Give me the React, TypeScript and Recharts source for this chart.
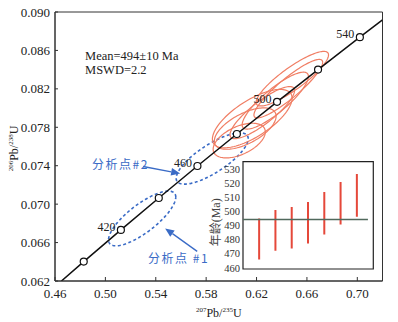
import React from 'react';
import { ComposedChart, Line, Scatter, XAxis, YAxis, ReferenceArea, ReferenceLine, Bar } from 'recharts';

// ---------- data ----------
const xTicks = [0.46, 0.5, 0.54, 0.58, 0.62, 0.66, 0.7];
const yTicks = [0.062, 0.066, 0.07, 0.074, 0.078, 0.082, 0.086, 0.09];

// concordia curve (age in Ma, 207Pb/235U, 206Pb/238U)
const concordiaAge = [387.8, 400, 420, 440, 460, 480, 500, 520, 540, 550.7];
const concordiaX = [0.4651, 0.48281, 0.51231, 0.54239, 0.57307, 0.60437, 0.63628, 0.66883, 0.70203, 0.72];
const concordiaY = [0.062, 0.06402, 0.06732, 0.07064, 0.07397, 0.0773, 0.08065, 0.08401, 0.08738, 0.08918];
const markerAges = [400, 420, 440, 460, 480, 500, 520, 540];
const labeledAges = [420, 460, 500, 540];

// analysed spots (red error ellipses)
const spotX = [0.60626, 0.61103, 0.6166, 0.62455, 0.63488, 0.64521, 0.64839];
const spotY = [0.076618, 0.077865, 0.078904, 0.079527, 0.080774, 0.082021, 0.08306];
const spotSx = [0.02071, 0.02452, 0.03164, 0.02563, 0.0263, 0.02728, 0.02877];
const spotSy = [0.001804, 0.002154, 0.00304, 0.002713, 0.002962, 0.003044, 0.00284];
const spotRho = [0.5, 0.6, 0.7, 0.85, 0.85, 0.9, 0.87];

// highlighted spots (blue dashed ellipses) #1, #2
const hlX = [0.5292, 0.5848];
const hlY = [0.06851, 0.07475];
const hlSx = [0.0267, 0.0286];
const hlSy = [0.00285, 0.00267];
const hlRho = [0.78, 0.77];

// annotations
const meanText = 'Mean=494±10 Ma';
const mswdText = 'MSWD=2.2';
const statsX = 0.48385;
const statsY = [0.085449, 0.083995];
const noteTexts = ['分析点#2', '分析点 #1'];
const noteX = [0.48941, 0.53393];
const noteY = [0.074229, 0.064462];
const arrowFrom = [{ x: 0.52995, y: 0.073917 }, { x: 0.57288, y: 0.065086 }];
const arrowTo = [{ x: 0.55936, y: 0.07319 }, { x: 0.54744, y: 0.067475 }];

// inset: weighted mean ages
const insetIdx = [1, 2, 3, 4, 5, 6, 7];
const insetLow = [466, 472.2, 473.8, 477.4, 483.7, 490.7, 496.3];
const insetHigh = [495.1, 501, 503.1, 506.7, 513.7, 520.8, 526.5];
const insetMean = 494.3;
const insetTicks = [460, 470, 480, 490, 500, 510, 520, 530];

// ---------- derived ----------
const SERIF = "'Liberation Serif', 'Times New Roman', serif";
const CJK = "'Noto Sans CJK SC', sans-serif";
const BLUE = '#3a6bc6';
const RED = '#f07e64';

const ellipse = (cx: number, cy: number, sx: number, sy: number, rho: number) => {
  const pts: { x: number; y: number }[] = [];
  const k = Math.sqrt(1 - rho * rho);
  const n = 120;
  for (let i = 0; i <= n; i++) {
    const t = (i / n) * 2 * Math.PI;
    pts.push({ x: cx + sx * Math.cos(t), y: cy + sy * (rho * Math.cos(t) + k * Math.sin(t)) });
  }
  return pts;
};

const concordia = concordiaAge.map((a, i) => ({ age: a, x: concordiaX[i], y: concordiaY[i] }));
const markers = concordia.filter((p) => markerAges.some((m) => Math.abs(m - p.age) < 0.01));
const ageLabels = concordia.filter((p) => labeledAges.some((m) => Math.abs(m - p.age) < 0.01));
const redEllipses = spotX.map((_, i) => ellipse(spotX[i], spotY[i], spotSx[i], spotSy[i], spotRho[i]));
const blueEllipses = hlX.map((_, i) => ellipse(hlX[i], hlY[i], hlSx[i], hlSy[i], hlRho[i]));
const insetData = insetIdx.map((i, k) => ({ i, range: [insetLow[k], insetHigh[k]] }));

// ---------- render helpers ----------
const XTick = (p: any) => (
  <g>
    <line x1={p.x} x2={p.x} y1={p.y} y2={p.y - 4} stroke="#333" strokeWidth={1} />
    <text x={p.x} y={p.y + 12} textAnchor="middle" dominantBaseline="central" fontSize={13} fontFamily={SERIF} fill="#222">
      {Number(p.payload.value).toFixed(2)}
    </text>
  </g>
);

const YTick = (p: any) => (
  <g>
    <line x1={p.x} x2={p.x + 3} y1={p.y} y2={p.y} stroke="#333" strokeWidth={1} />
    <text x={p.x - 5} y={p.y} textAnchor="end" dominantBaseline="central" fontSize={13} fontFamily={SERIF} fill="#222">
      {Number(p.payload.value).toFixed(3)}
    </text>
  </g>
);

const IsoText = ({ top, bottom, x, y, transform, anchor }: any) => (
  <text x={x} y={y} transform={transform} textAnchor={anchor} fontFamily={SERIF} fill="#222" fontSize={12}>
    <tspan fontSize={7} dy={-5}>{top}</tspan>
    <tspan fontSize={12} dy={5}>Pb/</tspan>
    <tspan fontSize={7} dy={-5}>{bottom}</tspan>
    <tspan fontSize={12} dy={5}>U</tspan>
  </text>
);

const XLabel = (props: any) => {
  const vb = props.viewBox;
  const cx = vb.x + vb.width / 2;
  return <IsoText top="207" bottom="235" x={cx} y={vb.y + 36} anchor="middle" />;
};

const YLabel = (props: any) => {
  const vb = props.viewBox;
  const x = 18;
  const y = vb.y + vb.height / 2 + 2;
  return <IsoText top="206" bottom="238" x={x} y={y} anchor="middle" transform={`rotate(-90, ${x}, ${y})`} />;
};

const Arrow = (p: any) => {
  const { x1, y1, x2, y2 } = p;
  const ang = Math.atan2(y2 - y1, x2 - x1);
  const L = 9;
  const W = 3.8;
  const bx = x2 - L * Math.cos(ang);
  const by = y2 - L * Math.sin(ang);
  const nx = -Math.sin(ang);
  const ny = Math.cos(ang);
  return (
    <g>
      <line x1={x1} y1={y1} x2={bx} y2={by} stroke={BLUE} strokeWidth={1.3} />
      <polygon points={`${x2},${y2} ${bx + W * nx},${by + W * ny} ${bx - W * nx},${by - W * ny}`} fill={BLUE} />
    </g>
  );
};

const Marker = (p: any) => <circle cx={p.cx} cy={p.cy} r={3.5} fill="#fff" stroke="#111" strokeWidth={1.2} />;
const AgeLabel = (p: any) => (
  <text x={p.cx - 5.5} y={p.cy - 3} textAnchor="end" dominantBaseline="central" fontSize={12} fontFamily={SERIF} fill="#222">
    {Math.round(p.payload.age)}
  </text>
);
const StatText = (p: any) => (
  <text x={p.cx} y={p.cy} textAnchor="start" dominantBaseline="central" fontSize={12.5} fontFamily={SERIF} fill="#222">
    {p.payload.text}
  </text>
);
const NoteText = (p: any) => (
  <text x={p.cx} y={p.cy} textAnchor="start" dominantBaseline="central" fontSize={12} fontFamily={CJK} fill={BLUE} letterSpacing={1.5}>
    {p.payload.text}
  </text>
);

const InsetTick = (p: any) => (
  <text x={p.x - 3} y={p.y} textAnchor="end" dominantBaseline="central" fontSize={10.5} fontFamily={SERIF} fill="#333">
    {p.payload.value}
  </text>
);

const InsetLabel = (props: any) => {
  const vb = props.viewBox;
  const x = vb.x + 6;
  const y = vb.y + vb.height / 2 + 7;
  return (
    <text x={x} y={y} transform={`rotate(-90, ${x}, ${y})`} textAnchor="middle" dominantBaseline="central" fontSize={12} fontFamily={`${SERIF}, ${CJK}`} fill="#444">
      年龄(Ma)
    </text>
  );
};

export default function App() {
  return (
    <div style={{ position: 'absolute', left: 0, top: 0, width: 398, height: 322, background: '#fff' }}>
      <div style={{ position: 'absolute', left: 0, top: 0 }}>
        <ComposedChart width={398} height={322} margin={{ top: 12, right: 15.5, bottom: 11, left: 5 }}>
          <XAxis
            type="number"
            dataKey="x"
            domain={[0.46, 0.72]}
            ticks={xTicks}
            interval={0}
            allowDataOverflow
            tickSize={0}
            tickMargin={0}
            tick={XTick}
            axisLine={{ stroke: '#333' }}
            height={30}
            label={{ content: XLabel }}
          />
          <YAxis
            type="number"
            dataKey="y"
            domain={[0.062, 0.09]}
            ticks={yTicks}
            interval={0}
            allowDataOverflow
            tickSize={0}
            tickMargin={0}
            tick={YTick}
            axisLine={{ stroke: '#333' }}
            width={50}
            label={{ content: YLabel }}
          />
          <ReferenceArea x1={0.46} x2={0.72} y1={0.062} y2={0.09} fill="none" stroke="#333" strokeWidth={1} ifOverflow="visible" />
          {blueEllipses.map((d, i) => (
            <Line key={`b${i}`} data={d} dataKey="y" type="linear" dot={false} activeDot={false} stroke={BLUE} strokeWidth={1.6} strokeDasharray="3 2.5" isAnimationActive={false} />
          ))}
          {redEllipses.map((d, i) => (
            <Line key={`r${i}`} data={d} dataKey="y" type="linear" dot={false} activeDot={false} stroke={RED} strokeWidth={1.2} isAnimationActive={false} />
          ))}
          <Line data={concordia} dataKey="y" type="linear" dot={false} activeDot={false} stroke="#111" strokeWidth={1.5} isAnimationActive={false} />
          <Scatter data={markers} shape={Marker} isAnimationActive={false} />
          <Scatter data={ageLabels} shape={AgeLabel} isAnimationActive={false} />
          <Scatter
            data={[{ x: statsX, y: statsY[0], text: meanText }, { x: statsX, y: statsY[1], text: mswdText }]}
            shape={StatText}
            isAnimationActive={false}
          />
          <Scatter data={noteTexts.map((t, i) => ({ x: noteX[i], y: noteY[i], text: t }))} shape={NoteText} isAnimationActive={false} />
          {arrowFrom.map((f, i) => (
            <ReferenceLine key={`a${i}`} segment={[f, arrowTo[i]]} shape={Arrow} ifOverflow="visible" />
          ))}
        </ComposedChart>
      </div>
      <div style={{ position: 'absolute', left: 200, top: 155 }}>
        <ComposedChart width={180} height={120} data={insetData} margin={{ top: 6.7, right: 6.7, bottom: 6, left: 10 }}>
          <XAxis type="number" dataKey="i" domain={[0, 8]} hide height={0} />
          <YAxis
            type="number"
            domain={[459.3, 535.2]}
            ticks={insetTicks}
            interval={0}
            allowDataOverflow
            width={33}
            tickSize={0}
            tickMargin={0}
            tick={InsetTick}
            axisLine={false}
            tickLine={false}
            label={{ content: InsetLabel }}
          />
          <ReferenceArea x1={0} x2={8} y1={459.3} y2={535.2} fill="none" stroke="#222" strokeWidth={1.2} ifOverflow="visible" />
          <Bar dataKey="range" barSize={2} fill="#e5483a" isAnimationActive={false} />
          <ReferenceLine segment={[{ x: 0, y: insetMean }, { x: 7.67, y: insetMean }]} stroke="#50695c" strokeWidth={1.5} ifOverflow="visible" />
        </ComposedChart>
      </div>
    </div>
  );
}
